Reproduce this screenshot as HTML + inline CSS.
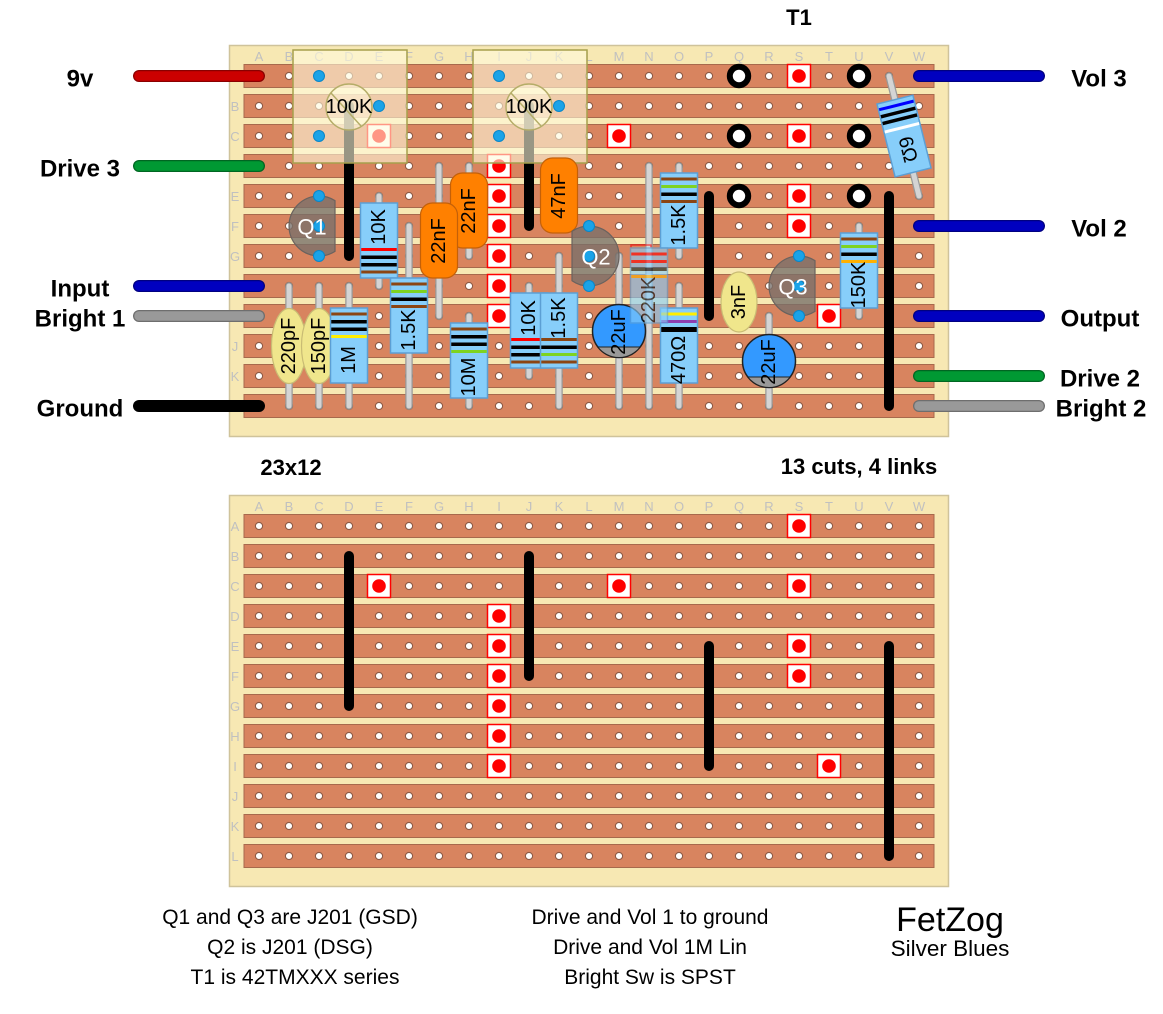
<!DOCTYPE html>
<html><head><meta charset="utf-8">
<style>
html,body{margin:0;padding:0;background:#fff;}
svg{display:block;}
.lo{stroke:#999;stroke-width:7.5;stroke-linecap:round;fill:none}
.li{stroke:#d4d4d4;stroke-width:5;stroke-linecap:round;fill:none}
.rb{fill:#87cefa;stroke:#5c9fd4;stroke-width:1.5}
.oc{fill:#ff8000;stroke:#c46008;stroke-width:1.2}
.cc{fill:#f0e68c;stroke:#c9bc74;stroke-width:1.2}
.lb{font-family:"Liberation Sans",sans-serif;font-size:20px;fill:#000;text-anchor:middle;dominant-baseline:central}
.ql{font-family:"Liberation Sans",sans-serif;font-size:22px;fill:#fff;text-anchor:middle;dominant-baseline:central}
.st{fill:#d8845f;stroke:#a7694c;stroke-width:1}
.lk{stroke:#000;stroke-width:10;stroke-linecap:round}
.wl{font-family:"Liberation Sans",sans-serif;font-weight:bold;font-size:24px;fill:#000;text-anchor:middle}
.tl{font-family:"Liberation Sans",sans-serif;font-weight:bold;font-size:22px;fill:#000;text-anchor:middle}
.nt{font-family:"Liberation Sans",sans-serif;font-size:21px;fill:#000;text-anchor:middle}
.cl{font-family:"Liberation Sans",sans-serif;font-size:13px;fill:#c0c0c0;text-anchor:middle}
</style></head><body>
<svg xmlns="http://www.w3.org/2000/svg" xmlns:xlink="http://www.w3.org/1999/xlink" width="1163" height="1014" viewBox="0 0 1163 1014">
<defs>
<pattern id="ht" x="244" y="61" width="30" height="30" patternUnits="userSpaceOnUse"><circle cx="15" cy="15" r="3.6" fill="#fff" stroke="#8d5a44" stroke-width="1.1"/></pattern>
<pattern id="hb" x="244" y="511" width="30" height="30" patternUnits="userSpaceOnUse"><circle cx="15" cy="15" r="3.6" fill="#fff" stroke="#8d5a44" stroke-width="1.1"/></pattern>
<g id="cut"><rect x="-11.5" y="-11.5" width="23" height="23" fill="#fff" stroke="#f00" stroke-width="1.5"/><circle r="6.8" fill="#f00"/></g>
<g id="ring"><circle r="9.2" fill="#fff" stroke="#000" stroke-width="6"/></g>
<g id="pin"><circle r="5.5" fill="#1aa3e8" stroke="#0a86c8" stroke-width="1"/></g>
</defs>

<!-- ===================== TOP BOARD ===================== -->
<rect x="229.5" y="45.5" width="719" height="391" fill="#f7e8b3" stroke="#cfc39b" stroke-width="1.5"/>
<g class="cl">
<text x="259" y="61">A</text><text x="289" y="61">B</text><text x="319" y="61">C</text><text x="349" y="61">D</text><text x="379" y="61">E</text><text x="409" y="61">F</text><text x="439" y="61">G</text><text x="469" y="61">H</text><text x="499" y="61">I</text><text x="529" y="61">J</text><text x="559" y="61">K</text><text x="589" y="61">L</text><text x="619" y="61">M</text><text x="649" y="61">N</text><text x="679" y="61">O</text><text x="709" y="61">P</text><text x="739" y="61">Q</text><text x="769" y="61">R</text><text x="799" y="61">S</text><text x="829" y="61">T</text><text x="859" y="61">U</text><text x="889" y="61">V</text><text x="919" y="61">W</text>
<text x="235" y="81">A</text><text x="235" y="111">B</text><text x="235" y="141">C</text><text x="235" y="171">D</text><text x="235" y="201">E</text><text x="235" y="231">F</text><text x="235" y="261">G</text><text x="235" y="291">H</text><text x="235" y="321">I</text><text x="235" y="351">J</text><text x="235" y="381">K</text><text x="235" y="411">L</text>
</g>
<g>
<rect class="st" x="244" y="64.5" width="690" height="23"/><rect class="st" x="244" y="94.5" width="690" height="23"/><rect class="st" x="244" y="124.5" width="690" height="23"/><rect class="st" x="244" y="154.5" width="690" height="23"/><rect class="st" x="244" y="184.5" width="690" height="23"/><rect class="st" x="244" y="214.5" width="690" height="23"/><rect class="st" x="244" y="244.5" width="690" height="23"/><rect class="st" x="244" y="274.5" width="690" height="23"/><rect class="st" x="244" y="304.5" width="690" height="23"/><rect class="st" x="244" y="334.5" width="690" height="23"/><rect class="st" x="244" y="364.5" width="690" height="23"/><rect class="st" x="244" y="394.5" width="690" height="23"/>
</g>
<rect x="244" y="61" width="690" height="360" fill="url(#ht)"/>
<!-- cuts -->
<use xlink:href="#cut" x="799" y="76"/><use xlink:href="#cut" x="379" y="136"/><use xlink:href="#cut" x="619" y="136"/><use xlink:href="#cut" x="799" y="136"/>
<use xlink:href="#cut" x="499" y="166"/><use xlink:href="#cut" x="499" y="196"/><use xlink:href="#cut" x="499" y="226"/><use xlink:href="#cut" x="499" y="256"/><use xlink:href="#cut" x="499" y="286"/><use xlink:href="#cut" x="499" y="316"/>
<use xlink:href="#cut" x="799" y="196"/><use xlink:href="#cut" x="799" y="226"/><use xlink:href="#cut" x="829" y="316"/>
<!-- links -->
<line class="lk" x1="349" y1="106" x2="349" y2="256"/>
<line class="lk" x1="529" y1="106" x2="529" y2="226"/>
<line class="lk" x1="709" y1="196" x2="709" y2="316"/>
<line class="lk" x1="889" y1="196" x2="889" y2="406"/>

<!-- pots -->
<rect x="293" y="50" width="114" height="113" fill="#fffadc" fill-opacity="0.6" stroke="#a6a04c" stroke-width="1.5"/>
<circle cx="349" cy="107" r="23" fill="#fffadc" fill-opacity="0.55" stroke="#b5ad68" stroke-width="1.5"/>
<line x1="331" y1="93" x2="361" y2="126" stroke="#b5ad68" stroke-width="1.5"/>
<use xlink:href="#pin" x="319" y="76"/><use xlink:href="#pin" x="319" y="136"/><use xlink:href="#pin" x="379" y="106"/>
<text class="lb" x="349" y="107">100K</text>
<rect x="473" y="50" width="114" height="113" fill="#fffadc" fill-opacity="0.6" stroke="#a6a04c" stroke-width="1.5"/>
<circle cx="529" cy="107" r="23" fill="#fffadc" fill-opacity="0.55" stroke="#b5ad68" stroke-width="1.5"/>
<line x1="511" y1="93" x2="541" y2="126" stroke="#b5ad68" stroke-width="1.5"/>
<use xlink:href="#pin" x="499" y="76"/><use xlink:href="#pin" x="499" y="136"/><use xlink:href="#pin" x="559" y="106"/>
<text class="lb" x="529" y="107">100K</text>

<!-- leads -->
<g>
<line class="lo" x1="379" y1="196" x2="379" y2="286"/><line class="li" x1="379" y1="196" x2="379" y2="286"/>
<line class="lo" x1="409" y1="226" x2="409" y2="406"/><line class="li" x1="409" y1="226" x2="409" y2="406"/>
<line class="lo" x1="349" y1="286" x2="349" y2="406"/><line class="li" x1="349" y1="286" x2="349" y2="406"/>
<line class="lo" x1="469" y1="316" x2="469" y2="406"/><line class="li" x1="469" y1="316" x2="469" y2="406"/>
<line class="lo" x1="529" y1="286" x2="529" y2="376"/><line class="li" x1="529" y1="286" x2="529" y2="376"/>
<line class="lo" x1="559" y1="256" x2="559" y2="406"/><line class="li" x1="559" y1="256" x2="559" y2="406"/>
<line class="lo" x1="679" y1="166" x2="679" y2="256"/><line class="li" x1="679" y1="166" x2="679" y2="256"/>
<line class="lo" x1="679" y1="286" x2="679" y2="406"/><line class="li" x1="679" y1="286" x2="679" y2="406"/>
<line class="lo" x1="859" y1="226" x2="859" y2="316"/><line class="li" x1="859" y1="226" x2="859" y2="316"/>
<line class="lo" x1="649" y1="166" x2="649" y2="406"/><line class="li" x1="649" y1="166" x2="649" y2="406"/>
<line class="lo" x1="289" y1="286" x2="289" y2="406"/><line class="li" x1="289" y1="286" x2="289" y2="406"/>
<line class="lo" x1="319" y1="286" x2="319" y2="406"/><line class="li" x1="319" y1="286" x2="319" y2="406"/>
<line class="lo" x1="439" y1="166" x2="439" y2="316"/><line class="li" x1="439" y1="166" x2="439" y2="316"/>
<line class="lo" x1="469" y1="166" x2="469" y2="256"/><line class="li" x1="469" y1="166" x2="469" y2="256"/>
<line class="lo" x1="619" y1="256" x2="619" y2="406"/><line class="li" x1="619" y1="256" x2="619" y2="406"/>
<line class="lo" x1="769" y1="316" x2="769" y2="406"/><line class="li" x1="769" y1="316" x2="769" y2="406"/>
<line class="lo" x1="889" y1="76" x2="919" y2="196"/><line class="li" x1="889" y1="76" x2="919" y2="196"/>
</g>

<!-- ceramic caps 220pF,150pF -->
<ellipse class="cc" cx="289" cy="346" rx="17.5" ry="37.5"/>
<text class="lb" transform="translate(289,346) rotate(-90)">220pF</text>
<ellipse class="cc" cx="319" cy="346" rx="17.5" ry="37.5"/>
<text class="lb" transform="translate(319,346) rotate(-90)">150pF</text>

<!-- 1M -->
<rect class="rb" x="330.5" y="308" width="37" height="75"/>
<rect x="331.25" y="312.5" width="35.5" height="3" fill="#8b4513"/><rect x="331.25" y="320" width="35.5" height="3.5" fill="#000"/><rect x="331.25" y="327.5" width="35.5" height="3.5" fill="#000"/><rect x="331.25" y="335" width="35.5" height="3" fill="#ffee00"/>
<text class="lb" transform="translate(349,360) rotate(-90)">1M</text>

<!-- 10K E -->
<rect class="rb" x="360.5" y="203" width="37" height="75"/>
<rect x="361.25" y="248" width="35.5" height="3" fill="#f00"/><rect x="361.25" y="255.5" width="35.5" height="3.5" fill="#000"/><rect x="361.25" y="263" width="35.5" height="3.5" fill="#000"/><rect x="361.25" y="270.5" width="35.5" height="3" fill="#8b4513"/>
<text class="lb" transform="translate(379,227) rotate(-90)">10K</text>

<!-- 1.5K F -->
<rect class="rb" x="390.5" y="278" width="37" height="75"/>
<rect x="391.25" y="282.5" width="35.5" height="3" fill="#8b4513"/><rect x="391.25" y="290" width="35.5" height="3" fill="#7ed321"/><rect x="391.25" y="297.5" width="35.5" height="3.5" fill="#000"/><rect x="391.25" y="305" width="35.5" height="3" fill="#8b4513"/>
<text class="lb" transform="translate(409,330) rotate(-90)">1.5K</text>

<!-- 22nF H, 22nF G -->
<rect class="oc" x="450.5" y="173" width="37" height="75" rx="12"/>
<text class="lb" transform="translate(469,211) rotate(-90)">22nF</text>
<rect class="oc" x="420.5" y="203" width="37" height="75" rx="12"/>
<text class="lb" transform="translate(439,241) rotate(-90)">22nF</text>

<!-- 10M -->
<rect class="rb" x="450.5" y="323" width="37" height="75"/>
<rect x="451.25" y="327.5" width="35.5" height="3" fill="#8b4513"/><rect x="451.25" y="335" width="35.5" height="3.5" fill="#000"/><rect x="451.25" y="342.5" width="35.5" height="3.5" fill="#000"/><rect x="451.25" y="350" width="35.5" height="3" fill="#7ed321"/>
<text class="lb" transform="translate(469,377) rotate(-90)">10M</text>

<!-- 10K J -->
<rect class="rb" x="510.5" y="293" width="37" height="75"/>
<rect x="511.25" y="338" width="35.5" height="3" fill="#f00"/><rect x="511.25" y="345.5" width="35.5" height="3.5" fill="#000"/><rect x="511.25" y="353" width="35.5" height="3.5" fill="#000"/><rect x="511.25" y="360.5" width="35.5" height="3" fill="#8b4513"/>
<text class="lb" transform="translate(529,318) rotate(-90)">10K</text>

<!-- 1.5K K -->
<rect class="rb" x="540.5" y="293" width="37" height="75"/>
<rect x="541.25" y="338" width="35.5" height="3" fill="#8b4513"/><rect x="541.25" y="345.5" width="35.5" height="3.5" fill="#000"/><rect x="541.25" y="353" width="35.5" height="3" fill="#7ed321"/><rect x="541.25" y="360.5" width="35.5" height="3" fill="#8b4513"/>
<text class="lb" transform="translate(559,318) rotate(-90)">1.5K</text>

<!-- 47nF -->
<rect class="oc" x="540.5" y="158" width="37" height="75" rx="12"/>
<text class="lb" transform="translate(559,196) rotate(-90)">47nF</text>

<!-- Q1 -->
<path d="M335,200.6 A30,30 0 1,0 335,251.4 Z" fill="#776f6a" fill-opacity="0.78" stroke="#6a625e" stroke-width="1.2"/>
<use xlink:href="#pin" x="319" y="196"/><use xlink:href="#pin" x="319" y="226"/><use xlink:href="#pin" x="319" y="256"/>
<text class="ql" x="312" y="227">Q1</text>

<!-- Q2 -->
<path d="M572,231.3 A30,30 0 1,1 572,280.7 Z" fill="#776f6a" fill-opacity="0.78" stroke="#6a625e" stroke-width="1.2"/>
<use xlink:href="#pin" x="589" y="226"/><use xlink:href="#pin" x="589" y="256"/><use xlink:href="#pin" x="589" y="286"/>
<text class="ql" x="596" y="257">Q2</text>

<!-- 22uF M -->
<circle cx="619" cy="331" r="26.5" fill="#3399ff" stroke="#222" stroke-width="1.5"/>
<path d="M597.9,347 A26.5,26.5 0 0,0 640.1,347 Z" fill="#999" stroke="#222" stroke-width="1"/>
<text class="lb" transform="translate(619,332) rotate(-90)">22uF</text>

<!-- 1.5K O -->
<rect class="rb" x="660.5" y="173" width="37" height="75"/>
<rect x="661.25" y="177.5" width="35.5" height="3" fill="#8b4513"/><rect x="661.25" y="185" width="35.5" height="3" fill="#7ed321"/><rect x="661.25" y="192.5" width="35.5" height="3.5" fill="#000"/><rect x="661.25" y="200" width="35.5" height="3" fill="#8b4513"/>
<text class="lb" transform="translate(679,225) rotate(-90)">1.5K</text>

<!-- 470 -->
<rect class="rb" x="660.5" y="308" width="37" height="75"/>
<rect x="661.25" y="312.5" width="35.5" height="3" fill="#ffee00"/><rect x="661.25" y="320" width="35.5" height="3" fill="#8e3fb0"/><rect x="661.25" y="327" width="35.5" height="5" fill="#000"/>
<text class="lb" transform="translate(679,360) rotate(-90)">470Ω</text>

<!-- 220K translucent -->
<g opacity="0.62">
<rect x="631" y="245" width="20" height="20" fill="none" stroke="#f00" stroke-width="1.5"/>
<rect class="rb" x="630.5" y="248" width="37" height="75"/>
<rect x="631.25" y="252.5" width="35.5" height="3" fill="#f00"/><rect x="631.25" y="260" width="35.5" height="3" fill="#f00"/><rect x="631.25" y="267.5" width="35.5" height="3.5" fill="#000"/><rect x="631.25" y="275" width="35.5" height="3" fill="#ffb000"/>
<text class="lb" transform="translate(649,300) rotate(-90)">220K</text>
</g>

<!-- 3nF -->
<ellipse class="cc" cx="739" cy="302" rx="18" ry="30"/>
<text class="lb" transform="translate(739,302) rotate(-90)">3nF</text>

<!-- Q3 -->
<path d="M815,260.6 A30,30 0 1,0 815,311.4 Z" fill="#776f6a" fill-opacity="0.78" stroke="#6a625e" stroke-width="1.2"/>
<use xlink:href="#pin" x="799" y="256"/><use xlink:href="#pin" x="799" y="286"/><use xlink:href="#pin" x="799" y="316"/>
<text class="ql" x="793" y="287">Q3</text>

<!-- 22uF R -->
<circle cx="769" cy="361" r="26.5" fill="#3399ff" stroke="#222" stroke-width="1.5"/>
<path d="M747.9,377 A26.5,26.5 0 0,0 790.1,377 Z" fill="#999" stroke="#222" stroke-width="1"/>
<text class="lb" transform="translate(769,362) rotate(-90)">22uF</text>

<!-- 150K -->
<rect class="rb" x="840.5" y="233" width="37" height="75"/>
<rect x="841.25" y="237.5" width="35.5" height="3" fill="#8b4513"/><rect x="841.25" y="245" width="35.5" height="3" fill="#7ed321"/><rect x="841.25" y="252.5" width="35.5" height="3.5" fill="#000"/><rect x="841.25" y="260" width="35.5" height="3" fill="#ffb000"/>
<text class="lb" transform="translate(859,285) rotate(-90)">150K</text>

<!-- 6 ohm angled -->
<g transform="translate(904,136) rotate(-14)">
<rect class="rb" x="-18.5" y="-37.5" width="37" height="75"/>
<rect x="-17.75" y="-33" width="35.5" height="3" fill="#0000ff"/><rect x="-17.75" y="-26" width="35.5" height="3.5" fill="#000"/><rect x="-17.75" y="-19" width="35.5" height="3.5" fill="#000"/><rect x="-17.75" y="-10" width="35.5" height="3" fill="#fff"/>
<text class="lb" transform="translate(0,14) rotate(90)">6Ω</text>
</g>

<!-- T1 rings -->
<use xlink:href="#ring" x="739" y="76"/><use xlink:href="#ring" x="859" y="76"/><use xlink:href="#ring" x="739" y="136"/><use xlink:href="#ring" x="859" y="136"/><use xlink:href="#ring" x="739" y="196"/><use xlink:href="#ring" x="859" y="196"/>

<!-- wires left -->
<g stroke-linecap="round">
<line x1="139" y1="76" x2="259" y2="76" stroke="#8a0000" stroke-width="12"/><line x1="139" y1="76" x2="259" y2="76" stroke="#cc0000" stroke-width="9.5"/>
<line x1="139" y1="166" x2="259" y2="166" stroke="#006622" stroke-width="12"/><line x1="139" y1="166" x2="259" y2="166" stroke="#009933" stroke-width="9.5"/>
<line x1="139" y1="286" x2="259" y2="286" stroke="#000080" stroke-width="12"/><line x1="139" y1="286" x2="259" y2="286" stroke="#0000c0" stroke-width="9.5"/>
<line x1="139" y1="316" x2="259" y2="316" stroke="#6e6e6e" stroke-width="12"/><line x1="139" y1="316" x2="259" y2="316" stroke="#999" stroke-width="9.5"/>
<line x1="139" y1="406" x2="259" y2="406" stroke="#000" stroke-width="12"/>
<!-- wires right -->
<line x1="919" y1="76" x2="1039" y2="76" stroke="#000080" stroke-width="12"/><line x1="919" y1="76" x2="1039" y2="76" stroke="#0000c0" stroke-width="9.5"/>
<line x1="919" y1="226" x2="1039" y2="226" stroke="#000080" stroke-width="12"/><line x1="919" y1="226" x2="1039" y2="226" stroke="#0000c0" stroke-width="9.5"/>
<line x1="919" y1="316" x2="1039" y2="316" stroke="#000080" stroke-width="12"/><line x1="919" y1="316" x2="1039" y2="316" stroke="#0000c0" stroke-width="9.5"/>
<line x1="919" y1="376" x2="1039" y2="376" stroke="#006622" stroke-width="12"/><line x1="919" y1="376" x2="1039" y2="376" stroke="#009933" stroke-width="9.5"/>
<line x1="919" y1="406" x2="1039" y2="406" stroke="#6e6e6e" stroke-width="12"/><line x1="919" y1="406" x2="1039" y2="406" stroke="#999" stroke-width="9.5"/>
</g>

<!-- wire labels -->
<text class="wl" x="80" y="86.5">9v</text>
<text class="wl" x="80" y="176.5">Drive 3</text>
<text class="wl" x="80" y="296.5">Input</text>
<text class="wl" x="80" y="326.5">Bright 1</text>
<text class="wl" x="80" y="416.5">Ground</text>
<text class="wl" x="1099" y="86.5">Vol 3</text>
<text class="wl" x="1099" y="236.5">Vol 2</text>
<text class="wl" x="1100" y="326.5">Output</text>
<text class="wl" x="1100" y="386.5">Drive 2</text>
<text class="wl" x="1101" y="416.5">Bright 2</text>
<text class="tl" x="799" y="25">T1</text>
<text class="tl" x="291" y="475">23x12</text>
<text class="tl" x="859" y="474">13 cuts, 4 links</text>

<!-- ===================== BOTTOM BOARD ===================== -->
<rect x="229.5" y="495.5" width="719" height="391" fill="#f7e8b3" stroke="#cfc39b" stroke-width="1.5"/>
<g class="cl">
<text x="259" y="511">A</text><text x="289" y="511">B</text><text x="319" y="511">C</text><text x="349" y="511">D</text><text x="379" y="511">E</text><text x="409" y="511">F</text><text x="439" y="511">G</text><text x="469" y="511">H</text><text x="499" y="511">I</text><text x="529" y="511">J</text><text x="559" y="511">K</text><text x="589" y="511">L</text><text x="619" y="511">M</text><text x="649" y="511">N</text><text x="679" y="511">O</text><text x="709" y="511">P</text><text x="739" y="511">Q</text><text x="769" y="511">R</text><text x="799" y="511">S</text><text x="829" y="511">T</text><text x="859" y="511">U</text><text x="889" y="511">V</text><text x="919" y="511">W</text>
<text x="235" y="531">A</text><text x="235" y="561">B</text><text x="235" y="591">C</text><text x="235" y="621">D</text><text x="235" y="651">E</text><text x="235" y="681">F</text><text x="235" y="711">G</text><text x="235" y="741">H</text><text x="235" y="771">I</text><text x="235" y="801">J</text><text x="235" y="831">K</text><text x="235" y="861">L</text>
</g>
<g>
<rect class="st" x="244" y="514.5" width="690" height="23"/><rect class="st" x="244" y="544.5" width="690" height="23"/><rect class="st" x="244" y="574.5" width="690" height="23"/><rect class="st" x="244" y="604.5" width="690" height="23"/><rect class="st" x="244" y="634.5" width="690" height="23"/><rect class="st" x="244" y="664.5" width="690" height="23"/><rect class="st" x="244" y="694.5" width="690" height="23"/><rect class="st" x="244" y="724.5" width="690" height="23"/><rect class="st" x="244" y="754.5" width="690" height="23"/><rect class="st" x="244" y="784.5" width="690" height="23"/><rect class="st" x="244" y="814.5" width="690" height="23"/><rect class="st" x="244" y="844.5" width="690" height="23"/>
</g>
<rect x="244" y="511" width="690" height="360" fill="url(#hb)"/>
<use xlink:href="#cut" x="799" y="526"/><use xlink:href="#cut" x="379" y="586"/><use xlink:href="#cut" x="619" y="586"/><use xlink:href="#cut" x="799" y="586"/>
<use xlink:href="#cut" x="499" y="616"/><use xlink:href="#cut" x="499" y="646"/><use xlink:href="#cut" x="499" y="676"/><use xlink:href="#cut" x="499" y="706"/><use xlink:href="#cut" x="499" y="736"/><use xlink:href="#cut" x="499" y="766"/>
<use xlink:href="#cut" x="799" y="646"/><use xlink:href="#cut" x="799" y="676"/><use xlink:href="#cut" x="829" y="766"/>
<line class="lk" x1="349" y1="556" x2="349" y2="706"/>
<line class="lk" x1="529" y1="556" x2="529" y2="676"/>
<line class="lk" x1="709" y1="646" x2="709" y2="766"/>
<line class="lk" x1="889" y1="646" x2="889" y2="856"/>

<!-- notes -->
<text class="nt" x="290" y="924">Q1 and Q3 are J201 (GSD)</text>
<text class="nt" x="290" y="954">Q2 is J201 (DSG)</text>
<text class="nt" x="295" y="984">T1 is 42TMXXX series</text>
<text class="nt" x="650" y="924">Drive and Vol 1 to ground</text>
<text class="nt" x="650" y="954">Drive and Vol 1M Lin</text>
<text class="nt" x="650" y="984">Bright Sw is SPST</text>
<text class="nt" x="950" y="931" style="font-size:34px">FetZog</text>
<text class="nt" x="950" y="956" style="font-size:22.5px">Silver Blues</text>
</svg>
</body></html>
